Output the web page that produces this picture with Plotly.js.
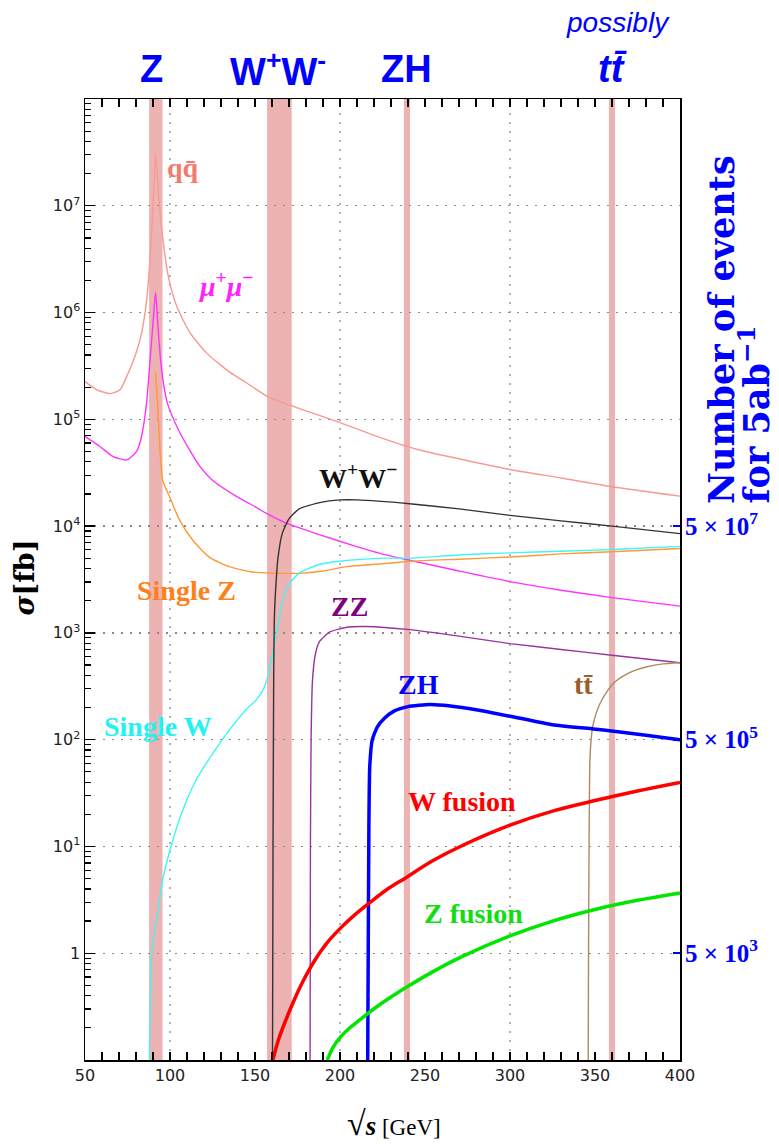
<!DOCTYPE html>
<html><head><meta charset="utf-8">
<script src="https://cdn.plot.ly/plotly-3.0.1.min.js"></script>
<style>body{margin:0;background:#fff}#chart{width:779px;height:1146px}</style>
</head><body><div id="chart"></div>
<script>
// ---- data (sqrt(s) in GeV, cross section in fb) ----
const qqE = [50, 57, 65, 70.6, 74.5, 79.4, 83.3, 86.3, 88.6, 90.2, 91.5, 93.5, 96.1, 99, 103.9, 111.8, 121.6, 135.3, 145.1, 157.8, 180, 200, 220, 245, 270, 300, 330, 360, 400];
const qqSigma = [2.26e5, 1.89e5, 1.74e5, 1.89e5, 2.51e5, 3.89e5, 6.46e5, 1.32e6, 3.89e6, 1.15e7, 3.02e7, 1.15e7, 4.47e6, 2.19e6, 1.15e6, 6.46e5, 4.17e5, 2.75e5, 2.19e5, 1.62e5, 1.2e5, 9.33e4, 7.08e4, 5.25e4, 4.27e4, 3.39e4, 2.82e4, 2.34e4, 1.91e4];

const mumuE = [50, 58.8, 66.6, 74.5, 80.4, 83, 85, 86.5, 88.5, 90, 91.5, 92.8, 94.5, 96.5, 98.5, 105, 112, 118, 125, 138.8, 147, 156.5, 168, 187.8, 207.5, 227, 241, 270, 300, 330, 360, 400];
const mumuSigma = [6.92e4, 5.56e4, 4.47e4, 4.17e4, 5.01e4, 6.61e4, 1.0e5, 1.58e5, 3.98e5, 7.94e5, 1.55e6, 7.94e5, 3.55e5, 2.0e5, 1.41e5, 7.94e4, 5.01e4, 3.55e4, 2.69e4, 1.91e4, 1.62e4, 1.32e4, 1.07e4, 8.32e3, 6.61e3, 5.37e3, 4.79e3, 3.80e3, 3.02e3, 2.51e3, 2.14e3, 1.78e3];

const singleZE = [91.5, 92.5, 94, 95.7, 99.6, 105.5, 113.3, 123.1, 134.9, 148.6, 160.4, 178, 190, 204, 227, 241, 270, 300, 330, 360, 400];
const singleZSigma = [2.75e5, 1.58e5, 5.5e4, 2.69e4, 1.91e4, 1.15e4, 7.41e3, 5.13e3, 4.17e3, 3.72e3, 3.63e3, 3.63e3, 3.80e3, 4.17e3, 4.47e3, 4.68e3, 4.90e3, 5.13e3, 5.50e3, 5.75e3, 6.17e3];

const singleWE = [87.9, 88.6, 89.8, 92.7, 95.6, 100.6, 107.5, 115.3, 125.1, 134.9, 144.7, 150.6, 154.5, 157.5, 160.4, 163.3, 166.3, 170.2, 176, 187.8, 199.6, 227, 241, 270, 300, 330, 360, 400];
const singleWSigma = [0.1, 0.5, 1.23, 2.34, 4.79, 10, 21.9, 41.7, 74.1, 123, 191, 234, 288, 389, 646, 1150, 2040, 2880, 3630, 4370, 4680, 5010, 5010, 5370, 5620, 5820, 6030, 6460];

const wwE = [160.3, 160.6, 161, 161.4, 162.5, 163.5, 166, 170, 176, 188, 200, 210, 241, 270, 300, 330, 360, 400];
const wwSigma = [0.1, 10, 398, 1410, 3160, 5010, 8510, 1.17e4, 1.45e4, 1.66e4, 1.76e4, 1.76e4, 1.62e4, 1.45e4, 1.26e4, 1.12e4, 1.0e4, 8510];

const zzE = [182.4, 182.6, 183, 183.8, 185.5, 188, 194, 205, 215, 241, 270, 300, 330, 360, 400];
const zzSigma = [0.1, 10, 100, 355, 631, 832, 1020, 1135, 1148, 1072, 933, 794, 700, 617, 525];

const zhE = [216.3, 216.6, 217, 217.5, 219, 222, 226, 232, 240, 253, 265, 280, 300, 325, 349, 361, 380, 400];
const zhSigma = [0.1, 1, 15.8, 56.2, 100, 132, 158, 186, 204, 214, 207, 191, 166, 138, 126, 120, 110, 100];

const ttE = [346, 346.2, 346.5, 347, 348, 349, 351, 353, 357, 361, 366, 372, 380, 390, 400];
const ttSigma = [0.1, 1, 10, 63.1, 112, 141, 182, 219, 282, 339, 389, 437, 479, 513, 525];

const wFusionE = [160.5, 164, 168, 173, 178, 185, 192, 200, 208, 218, 227, 239, 255, 272, 300, 325, 350, 375, 400];
const wFusionSigma = [0.1, 0.158, 0.234, 0.363, 0.537, 0.851, 1.23, 1.70, 2.24, 3.02, 3.89, 5.13, 7.41, 10.2, 15.8, 21.4, 26.9, 33.1, 39.8];

const zFusionE = [192.5, 196, 200, 205, 212, 220, 230, 240, 255, 272, 300, 325, 350, 375, 400];
const zFusionSigma = [0.1, 0.132, 0.162, 0.195, 0.240, 0.302, 0.389, 0.490, 0.676, 0.933, 1.45, 2.0, 2.57, 3.13, 3.67];

// running-energy bands and top labels
const bandLo = [87.7, 157.1, 237.6, 358.2];
const bandHi = [95.6, 171.6, 241.2, 361.8];
const topLabels = ['Z', 'W<sup>+</sup>W<sup>-</sup>', 'ZH', '<i>tt̄</i>'];
const topLabelE = [89.4, 163.5, 239.4, 360.5];

// ticks
const xTickVals = [50, 100, 150, 200, 250, 300, 350, 400];
const xGridVals = [100, 200, 300];
const yTickVals = [1, 10, 100, 1e3, 1e4, 1e5, 1e6, 1e7];
const yTickText = ['1', '10<sup>1</sup>', '10<sup>2</sup>', '10<sup>3</sup>', '10<sup>4</sup>', '10<sup>5</sup>', '10<sup>6</sup>', '10<sup>7</sup>'];
const yDecades = [0.1, 1, 10, 100, 1e3, 1e4, 1e5, 1e6, 1e7];
const yMinorDigits = [2, 3, 4, 5, 6, 7, 8, 9];
const eventTickVals = [1, 100, 1e4];
const eventTickText = ['<b>5 × 10<sup>3</sup></b>', '<b>5 × 10<sup>5</sup></b>', '<b>5 × 10<sup>7</sup></b>'];

// curve labels
const curveLabels = ['qq̄', '<i>μ</i><sup>+</sup><i>μ</i><sup>−</sup>', 'W<sup>+</sup>W<sup>−</sup>', 'Single Z', 'ZZ', 'Single W', 'ZH', 'tt̄', 'W fusion', 'Z fusion'];
const curveLabelE = [107.9, 132.9, 210.6, 109.9, 205.8, 93.2, 245.9, 343.1, 271.8, 278.4];
const curveLabelLog = [7.36, 6.26, 4.46, 3.40, 3.25, 2.12, 2.52, 2.52, 1.42, 0.375];
const curveLabelColor = ['#f27b70', '#ff22ff', '#111111', '#ff7f1a', '#800080', '#22f2f2', '#0000ff', '#9a5f2a', '#ff0000', '#11dd11'];

// ---- traces ----
function line(x, y, color, width, smooth) {
  return {x: x, y: y, type: 'scatter', mode: 'lines',
    line: {color: color, width: width, shape: smooth ? 'spline' : 'linear', smoothing: smooth || 0},
    hoverinfo: 'skip', showlegend: false};
}
const traces = [
  line(qqE, qqSigma, '#f89a90', 1.4, 0.6),
  line(mumuE, mumuSigma, '#ff33ff', 1.4, 0.6),
  line(singleZE, singleZSigma, '#ff9933', 1.4, 0.6),
  line(singleWE, singleWSigma, '#40f5f5', 1.4, 0.6),
  line(wwE, wwSigma, '#333333', 1.4, 0.5),
  line(zzE, zzSigma, '#9933a0', 1.4, 0.5),
  line(ttE, ttSigma, '#b08860', 1.4, 0.5),
  line(zhE, zhSigma, '#0000ff', 3.5, 0.5),
  line(wFusionE, wFusionSigma, '#ff0000', 3.5, 1),
  line(zFusionE, zFusionSigma, '#00e600', 3.5, 1)
];
// transparent copy on the right (event count) axis so that it is drawn
const helper = line(zhE, zhSigma, 'rgba(0,0,0,0)', 0);
helper.yaxis = 'y2';
traces.push(helper);

// minor tick positions of the log axis
const yMinorVals = [];
yDecades.forEach(d => yMinorDigits.forEach(k => yMinorVals.push(d * k)));

// ---- shapes ----
const shapes = [];
for (let i = 0; i < bandLo.length; i++) {
  shapes.push({type: 'rect', xref: 'x', yref: 'paper', x0: bandLo[i], x1: bandHi[i], y0: 0, y1: 1,
    fillcolor: '#edb3b3', line: {width: 0}, layer: 'below'});
}
xGridVals.forEach(v => shapes.push({type: 'line', xref: 'x', yref: 'paper', x0: v, x1: v, y0: 0, y1: 1,
  line: {color: '#8a8a8a', width: 1.3, dash: '2px,7px'}, layer: 'below'}));

// ---- annotations ----
const annotations = [];
for (let i = 0; i < curveLabels.length; i++) {
  annotations.push({x: curveLabelE[i], y: curveLabelLog[i], xref: 'x', yref: 'y', text: '<b>' + curveLabels[i] + '</b>',
    xanchor: 'center', yanchor: 'middle',
    showarrow: false, font: {family: 'Liberation Serif', size: 28, color: curveLabelColor[i]}});
}
for (let i = 0; i < topLabels.length; i++) {
  annotations.push({x: topLabelE[i], y: 1.031, xref: 'x', yref: 'paper', text: '<b>' + topLabels[i] + '</b>',
    xanchor: 'center', yanchor: 'middle',
    showarrow: false, font: {family: 'Liberation Sans', size: 38, color: '#0000ff'}});
}
annotations.push({x: 363.5, y: 1.080, xref: 'x', yref: 'paper', text: '<i>possibly</i>', showarrow: false,
  xanchor: 'center', yanchor: 'middle',
  font: {family: 'Liberation Sans', size: 28, color: '#0000ff'}});
// axis titles
annotations.push({x: -0.101, y: 0.502, xref: 'paper', yref: 'paper', text: '<b><i>σ</i>[fb]</b>', textangle: -90,
  xanchor: 'center', yanchor: 'middle',
  showarrow: false, font: {family: 'DejaVu Serif', size: 27, color: '#000'}});
annotations.push({x: 0.52, y: -0.066, xref: 'paper', yref: 'paper',
  xanchor: 'center', yanchor: 'middle',
  text: '<span style="font-size:34px">√</span><b><i><span style="font-size:27px">s</span></i></b> [GeV]', showarrow: false,
  font: {family: 'Liberation Serif', size: 23, color: '#000'}});
annotations.push({x: 1.0689, y: 0.577, xref: 'paper', yref: 'paper', xanchor: 'center', yanchor: 'bottom',
  text: '<b>Number of events</b>', textangle: -90,
  showarrow: false, font: {family: 'DejaVu Serif', size: 35, color: '#0000ff'}});
annotations.push({x: 1.1244, y: 0.577, xref: 'paper', yref: 'paper', xanchor: 'center', yanchor: 'bottom',
  text: '<b>for 5ab<sup>−1</sup></b>', textangle: -90,
  showarrow: false, font: {family: 'DejaVu Serif', size: 35, color: '#0000ff'}});

const layout = {
  width: 779, height: 1146,
  margin: {l: 85, r: 99, t: 99, b: 86},
  paper_bgcolor: '#fff', plot_bgcolor: '#fff',
  showlegend: false,
  xaxis: {range: [50, 400], tickvals: xTickVals, ticks: 'inside', ticklen: 8, tickwidth: 1.3, tickcolor: '#000',
    mirror: 'allticks', showline: true, linecolor: '#000', linewidth: 1.5, showgrid: false, zeroline: false,
    minor: {dtick: 10, tick0: 50, ticks: 'inside', ticklen: 5, tickwidth: 1.2, tickcolor: '#000', showgrid: false},
    tickfont: {family: 'DejaVu Sans', size: 16, color: '#222'}},
  yaxis: {type: 'log', range: [-1, 8], tickvals: yTickVals, ticktext: yTickText, ticks: 'inside', ticklen: 10, tickwidth: 1.3,
    tickcolor: '#000', showline: true, mirror: true, linecolor: '#000', linewidth: 1.5, zeroline: false,
    showgrid: true, gridcolor: '#8a8a8a', gridwidth: 1.3, griddash: '2px,7px',
    minor: {tickmode: 'array', tickvals: yMinorVals, ticks: 'inside', ticklen: 6, tickwidth: 1.2, tickcolor: '#000', showgrid: false},
    tickfont: {family: 'DejaVu Sans', size: 16, color: '#222'}},
  yaxis2: {type: 'log', range: [-1, 8], overlaying: 'y', side: 'right', tickvals: eventTickVals, ticktext: eventTickText,
    ticks: 'inside', ticklen: 7, tickwidth: 2, tickcolor: '#0000ff', showgrid: false, zeroline: false, showline: false,
    ticklabelstandoff: 4,
    tickfont: {family: 'Liberation Serif', size: 25, color: '#0000ff'}},
  shapes: shapes,
  annotations: annotations
};

Plotly.newPlot('chart', traces, layout, {staticPlot: true, displayModeBar: false});
</script>
</body></html>
